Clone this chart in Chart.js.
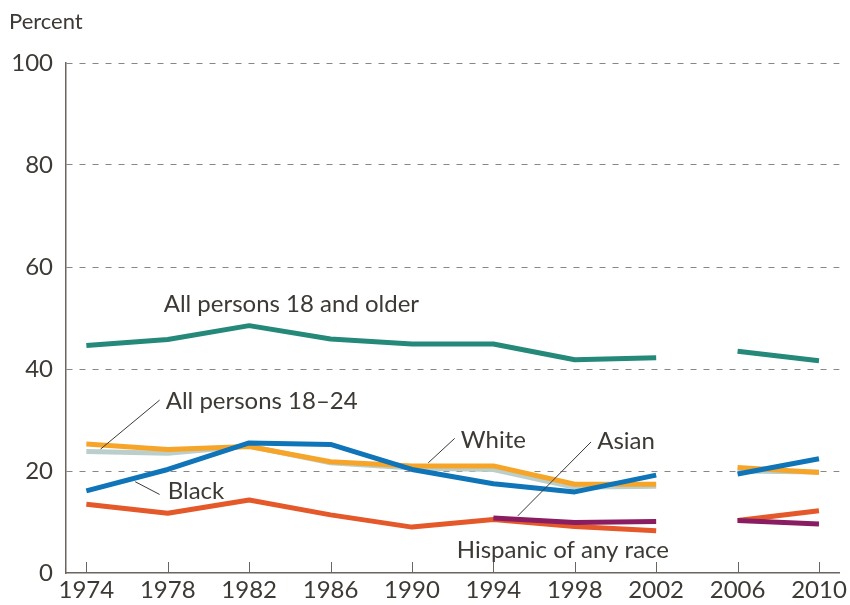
<!DOCTYPE html>
<html>
<head>
<meta charset="utf-8">
<script src="https://cdn.jsdelivr.net/npm/chart.js@4"></script>
<style>
  html, body { margin: 0; padding: 0; background: #fff; }
  #wrap { width: 850px; height: 605px; position: relative; }
</style>
</head>
<body>
<div id="wrap"><canvas id="chart"></canvas></div>
<script>
// ===== DATA =====
const years = [1974, 1978, 1982, 1986, 1990, 1994, 1998, 2002, 2006, 2010];
const allAdults = [44.6, 45.8, 48.5, 45.9, 44.9, 44.9, 41.8, 42.2, 43.5, 41.6];
const all1824 = [23.8, 23.5, 24.9, 21.6, 20.6, 20.3, 16.8, 17.0, 20.0, 19.8];
const white = [25.3, 24.2, 24.8, 21.8, 21.0, 21.0, 17.4, 17.4, 20.7, 19.7];
const black = [16.1, 20.3, 25.5, 25.2, 20.3, 17.5, 15.9, 19.2, 19.4, 22.4];
const hispanic = [13.5, 11.7, 14.3, 11.4, 9.0, 10.5, 9.1, 8.3, 10.3, 12.2];
const asian = [null, null, null, null, null, 10.8, 9.9, 10.1, 10.3, 9.6];
const yTicks = [0, 20, 40, 60, 80, 100];
// the series are not joined across this break
const breakAfter = 2002;

const textColor = '#3d3935';
const fontFamily = 'Lato, "Noto Sans", sans-serif';

// labels with leader lines, placed in data units
const notes = [
    { text: 'All persons 18 and older', x: 1977.8, y: 52.7 },
    { text: 'All persons 18\u201324', x: 1977.9, y: 33.6, line: [1974.7, 24.3, 1977.6, 33.9] },
    { text: 'Black', x: 1978.0, y: 16.1, line: [1976.4, 17.9, 1977.6, 15.4] },
    { text: 'White', x: 1992.4, y: 26.1, line: [1990.8, 21.6, 1992.1, 26.4] },
    { text: 'Asian', x: 1999.1, y: 25.9, line: [1995.2, 11.2, 1998.8, 25.7] },
    { text: 'Hispanic of any race', x: 1992.2, y: 4.5 }
];

// build points; a null point goes into the break so the line stops there
function series(values) {
    const pts = [];
    values.forEach((v, i) => {
        if (i > 0 && years[i - 1] === breakAfter) pts.push({ x: (years[i] + years[i - 1]) / 2, y: null });
        pts.push({ x: years[i], y: v });
    });
    return pts;
}

function makeSet(label, values, color) {
    return {
        label,
        data: series(values),
        borderColor: color,
        borderWidth: 5,
        pointRadius: 0,
        fill: false,
        tension: 0,
        borderCapStyle: 'butt',
        borderJoinStyle: 'round',
        spanGaps: false
    };
}

const extras = {
    id: 'extras',
    afterDraw(chart) {
        const { ctx, scales: { x, y } } = chart;
        ctx.save();
        // x ticks pointing up from the axis
        ctx.strokeStyle = '#6b6461';
        ctx.lineWidth = 1;
        years.forEach(yr => {
            const px = Math.round(x.getPixelForValue(yr)) + 0.5;
            ctx.beginPath();
            ctx.moveTo(px, y.bottom);
            ctx.lineTo(px, y.bottom - 11);
            ctx.stroke();
        });
        // axis title
        ctx.fillStyle = textColor;
        ctx.font = '22px ' + fontFamily;
        ctx.textBaseline = 'middle';
        ctx.textAlign = 'left';
        ctx.fillText('Percent', 9, 22);
        // notes
        ctx.font = '24px ' + fontFamily;
        notes.forEach(n => {
            if (n.line) {
                ctx.strokeStyle = '#3d3935';
                ctx.lineWidth = 1;
                ctx.beginPath();
                ctx.moveTo(x.getPixelForValue(n.line[0]), y.getPixelForValue(n.line[1]));
                ctx.lineTo(x.getPixelForValue(n.line[2]), y.getPixelForValue(n.line[3]));
                ctx.stroke();
            }
            ctx.fillText(n.text, x.getPixelForValue(n.x), y.getPixelForValue(n.y));
        });
        ctx.restore();
    }
};

new Chart(document.getElementById('chart'), {
    type: 'line',
    data: {
        datasets: [
            makeSet('All persons 18 and older', allAdults, '#25897a'),
            makeSet('Asian', asian, '#8a1c62'),
            makeSet('Hispanic of any race', hispanic, '#e4582a'),
            makeSet('Black', black, '#0f74b8'),
            makeSet('White', white, '#f6a529'),
            makeSet('All persons 18-24', all1824, '#bacfcb')
        ]
    },
    options: {
        responsive: true,
        maintainAspectRatio: false,
        animation: false,
        layout: { padding: { top: 63, right: 7, left: 0, bottom: 0 } },
        plugins: { legend: { display: false }, tooltip: { enabled: false } },
        scales: {
            x: {
                type: 'linear',
                min: 1973,
                max: 2011,
                afterBuildTicks: s => { s.ticks = years.map(v => ({ value: v })); },
                afterFit: s => { s.height = 32; },
                grid: { display: false, drawTicks: false },
                border: { display: true, color: '#6b6461', width: 1.5 },
                ticks: {
                    color: textColor,
                    font: { family: fontFamily, size: 24 },
                    padding: 3,
                    maxRotation: 0,
                    autoSkip: false,
                    callback: v => String(v)
                }
            },
            y: {
                min: 0,
                max: 100,
                afterBuildTicks: s => { s.ticks = yTicks.map(v => ({ value: v })); },
                afterFit: s => { s.width = 66; },
                grid: {
                    drawTicks: false,
                    color: c => (c.tick.value === 0 ? 'transparent' : '#8a8684'),
                    lineWidth: 1
                },
                border: { display: true, color: '#6b6461', width: 1.5, dash: [6, 7] },
                ticks: {
                    color: textColor,
                    font: { family: fontFamily, size: 24 },
                    padding: 13
                }
            }
        }
    },
    plugins: [extras]
});
</script>
</body>
</html>
